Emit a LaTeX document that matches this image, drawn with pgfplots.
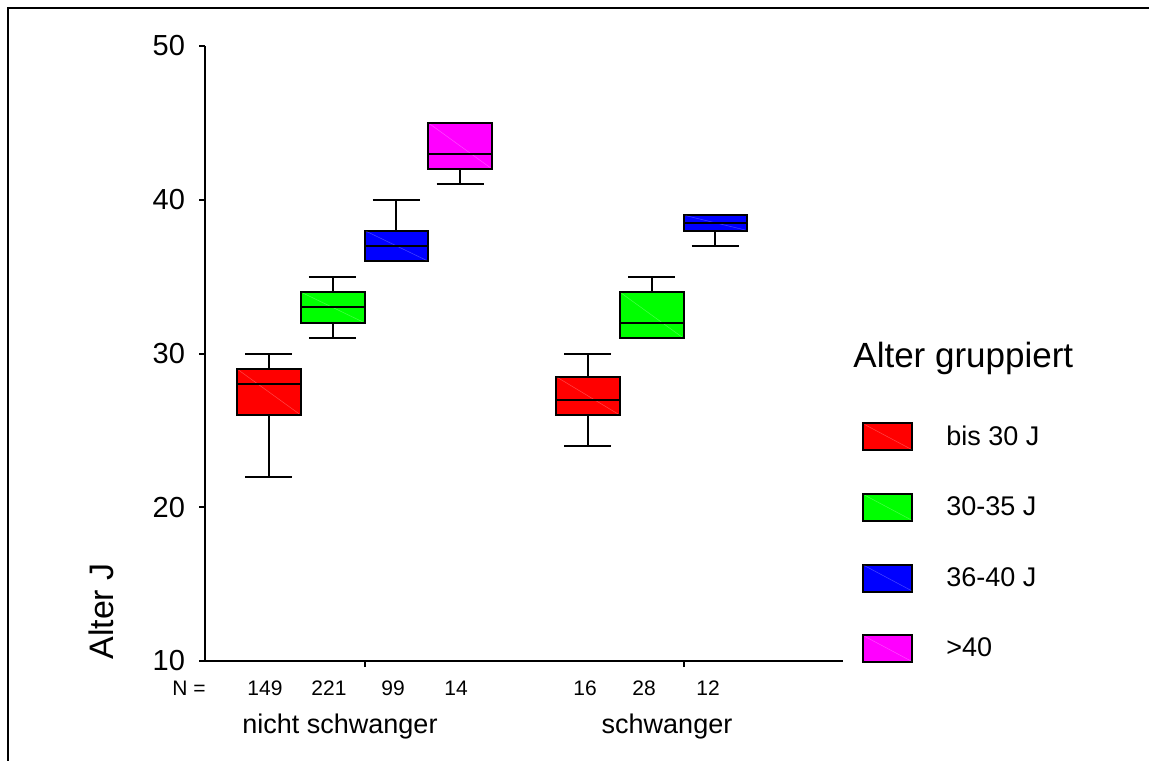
\documentclass[border=0pt]{standalone}
\usepackage{fontspec}
\setmainfont{Liberation Sans}
\usepackage{pgfplots}
\usepgfplotslibrary{statistics}
\pgfplotsset{compat=1.18}

\definecolor{spssred}{RGB}{255,0,0}
\definecolor{spssgreen}{RGB}{0,255,0}
\definecolor{spssblue}{RGB}{0,0,255}
\definecolor{spssmag}{RGB}{255,0,255}

\pgfplotsset{
  boxlegend/.style={legend image code/.code={%
    \draw[##1,line width=1pt] (0pt,-6.75pt) rectangle (24.5pt,6.75pt);
    \draw[white,opacity=0.2,line width=0.3pt] (0.5pt,6.25pt) -- (24pt,-6.25pt);}},
  spssbox/.style={
    forget plot, draw=black, line width=1pt, solid,
    boxplot/draw direction=y,
    boxplot/box extend=1, boxplot/whisker extend=0.74,
    boxplot/draw/box/.code={%
      \draw[/pgfplots/boxplot/every box/.try]
        (boxplot box cs:\pgfplotsboxplotvalue{lower quartile},0) rectangle
        (boxplot box cs:\pgfplotsboxplotvalue{upper quartile},1);
      \draw[white,opacity=0.2,line width=0.3pt,shorten <=1pt,shorten >=1pt]
        (boxplot box cs:\pgfplotsboxplotvalue{upper quartile},0) --
        (boxplot box cs:\pgfplotsboxplotvalue{lower quartile},1);
    },
  },
}

\begin{document}
\begin{tikzpicture}
\useasboundingbox (0pt,0pt) rectangle (574.5pt,380pt);
\clip (0pt,0pt) rectangle (574.5pt,380pt);
% frame (right and bottom edges lie outside the picture)
\draw[line width=1pt] (4pt,-10pt) -- (4pt,376pt) -- (590pt,376pt);

\begin{axis}[
  at={(102.5pt,49.5pt)}, anchor=south west,
  width=319pt, height=307.5pt, scale only axis,
  xmin=0, xmax=10, ymin=10, ymax=50,
  axis x line=bottom, axis y line=left,
  axis line style={-, line width=1pt},
  xtick={2.5,7.5}, xticklabels={,},
  ytick={10,20,30,40,50},
  tick align=outside, major tick length=3pt,
  tick style={line width=1pt, black},
  tick label style={font=\fontsize{14.5}{17}\selectfont},
  yticklabel style={xshift=-3.5pt},
  /pgf/number format/assume math mode=true,
  clip=false,
  legend cell align=left,
  legend style={draw=none, fill=none, at={(1.0298,0.3886)}, anchor=north west,
    inner sep=0pt, nodes={inner sep=0pt}, row sep=20.8pt, column sep=16.5pt,
    font=\fontsize{13.5}{16}\selectfont},
]
% nicht schwanger
\addplot[spssbox, fill=spssred, boxplot prepared={draw position=1,
  lower whisker=22, lower quartile=26, median=28, upper quartile=29, upper whisker=30}] coordinates {};
\addplot[spssbox, fill=spssgreen, boxplot prepared={draw position=2,
  lower whisker=31, lower quartile=32, median=33, upper quartile=34, upper whisker=35}] coordinates {};
\addplot[spssbox, fill=spssblue, boxplot prepared={draw position=3,
  lower whisker=36, lower quartile=36, median=37, upper quartile=38, upper whisker=40}] coordinates {};
\addplot[spssbox, fill=spssmag, boxplot prepared={draw position=4,
  lower whisker=41, lower quartile=42, median=43, upper quartile=45, upper whisker=45}] coordinates {};
% schwanger
\addplot[spssbox, fill=spssred, boxplot prepared={draw position=6,
  lower whisker=24, lower quartile=26, median=27, upper quartile=28.5, upper whisker=30}] coordinates {};
\addplot[spssbox, fill=spssgreen, boxplot prepared={draw position=7,
  lower whisker=31, lower quartile=31, median=32, upper quartile=34, upper whisker=35}] coordinates {};
\addplot[spssbox, fill=spssblue, boxplot prepared={draw position=8,
  lower whisker=37, lower quartile=38, median=38.5, upper quartile=39, upper whisker=39}] coordinates {};

\addlegendimage{boxlegend, fill=spssred, draw=black}
\addlegendentry{bis 30 J}
\addlegendimage{boxlegend, fill=spssgreen, draw=black}
\addlegendentry{30-35 J}
\addlegendimage{boxlegend, fill=spssblue, draw=black}
\addlegendentry{36-40 J}
\addlegendimage{boxlegend, fill=spssmag, draw=black}
\addlegendentry{>40}
\end{axis}

\begin{scope}[x=0.5pt,y=0.5pt]
\node[rotate=90, anchor=base west, inner sep=0pt, font=\fontsize{17}{20}\selectfont] at (113,100) {Alter J};
\node[anchor=base west, inner sep=0pt, font=\fontsize{17.5}{20}\selectfont] at (853,392) {Alter gruppiert};
\begin{scope}[every node/.style={anchor=base, inner sep=0pt, font=\fontsize{10.5}{12}\selectfont}]
\node at (189,65) {N =};
\node at (265,65) {149};
\node at (329,65) {221};
\node at (393,65) {99};
\node at (456,65) {14};
\node at (585,65) {16};
\node at (644,65) {28};
\node at (708,65) {12};
\end{scope}
\node[anchor=base, inner sep=0pt, font=\fontsize{13.5}{16}\selectfont] at (340,27) {nicht schwanger};
\node[anchor=base, inner sep=0pt, font=\fontsize{13.5}{16}\selectfont] at (667,27) {schwanger};
\end{scope}
\end{tikzpicture}
\end{document}
